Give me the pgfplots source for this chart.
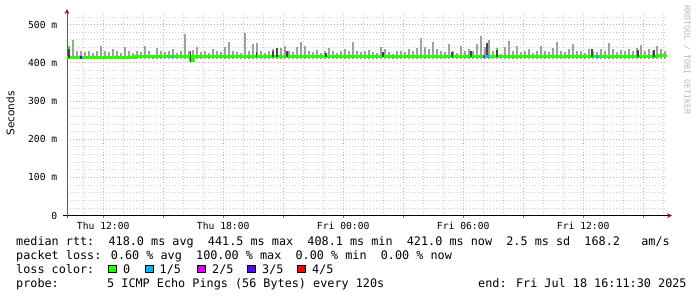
\documentclass[border=0pt]{standalone}
\usepackage{fontspec}
\setmainfont{DejaVu Sans}
\newfontfamily\monofont{DejaVu Sans Mono}
\usepackage{pgfplots}
\usepackage{pgfplotstable}
\pgfplotsset{compat=1.18}
\usetikzlibrary{arrows.meta}
\definecolor{mgrid}{RGB}{232,160,160}
\definecolor{mingrid}{RGB}{205,205,205}
\definecolor{smoke}{RGB}{160,160,160}
\definecolor{dsmoke}{RGB}{70,70,70}
\definecolor{axgray}{RGB}{90,90,90}
\definecolor{arrowred}{RGB}{140,30,30}
\definecolor{lc0}{RGB}{38,255,0}
\definecolor{lc1}{RGB}{0,184,255}
\definecolor{lc2}{RGB}{221,0,255}
\definecolor{lc3}{RGB}{92,0,255}
\definecolor{lc4}{RGB}{255,0,0}
\definecolor{wm}{RGB}{185,185,185}

\pgfplotstableread{
h t
10.3 445
10.5 460
10.7 432
10.9 430
11.1 428
11.3 430
11.5 425
11.7 432
11.9 445
12.1 432
12.3 428
12.5 436
12.7 430
12.9 425
13.1 440
13.3 430
13.5 425
13.7 432
13.9 428
14.1 445
14.3 430
14.5 420
14.7 438
14.9 432
15.1 428
15.3 430
15.5 436
15.7 425
15.9 432
16.1 475
16.3 430
16.5 434
16.7 440
16.9 428
17.1 432
17.3 426
17.5 436
17.7 430
17.9 428
18.1 440
18.3 455
18.5 432
18.7 428
18.9 425
19.1 478
19.3 430
19.5 448
19.7 452
19.9 430
20.1 426
20.3 432
20.5 436
20.7 430
20.9 438
21.1 445
21.3 432
21.5 428
21.7 440
21.9 455
22.1 445
22.3 430
22.5 428
22.7 434
22.9 426
23.1 430
23.3 438
23.5 430
23.7 425
23.9 432
24.1 436
24.3 430
24.5 455
24.7 432
24.9 428
25.1 430
25.3 434
25.5 428
25.7 426
25.9 440
26.1 436
26.3 428
26.5 424
26.7 430
26.9 432
27.1 428
27.3 436
27.5 430
27.7 438
27.9 465
28.1 440
28.3 436
28.5 455
28.7 436
28.9 430
29.1 428
29.3 448
29.5 432
29.7 426
29.9 445
30.1 432
30.3 436
30.5 430
30.7 450
30.9 470
31.1 440
31.3 460
31.5 432
31.7 426
31.9 424
32.1 440
32.3 458
32.5 432
32.7 445
32.9 428
33.1 430
33.3 436
33.5 426
33.7 430
33.9 445
34.1 432
34.3 428
34.5 438
34.7 455
34.9 432
35.1 428
35.3 436
35.5 450
35.7 430
35.9 432
36.1 426
36.3 436
36.5 432
36.7 428
36.9 436
37.1 432
37.3 453
37.5 436
37.7 428
37.9 434
38.1 430
38.3 436
38.5 432
38.7 438
38.9 447
39.1 432
39.3 436
39.5 430
39.7 445
39.9 436
40.1 432
}\smoketab

\pgfplotstableread{
h b t
10.29 412 441
16.37 403 430
19.67 416 428
20.49 416 432
20.69 416 439
21.19 416 431
23.14 416 425
25.99 416 428
29.44 416 427
30.39 416 432
31.19 416 451
31.69 416 436
36.44 416 436
38.74 416 434
39.54 416 433
}\darktab

\begin{document}
\begin{tikzpicture}
\useasboundingbox (0pt,0pt) rectangle (697pt,-297pt);
\fill[white] (0pt,0pt) rectangle (697pt,-297pt);
\begin{axis}[
  at={(67pt,-215.6pt)}, anchor=south west,
  scale only axis, width=600pt, height=202.5pt,
  xmin=10.19, xmax=40.19, ymin=0, ymax=530,
  axis x line*=bottom, axis y line*=left,
  x axis line style={color=black, line width=0.8pt, shorten <=-4pt, shorten >=-5pt, -{Stealth[length=5pt,width=5pt,color=arrowred]}},
  y axis line style={color=axgray, line width=0.8pt, shorten <=-2pt, shorten >=-4pt, -{Stealth[length=5pt,width=5pt,color=arrowred]}},
  xtick={12,15,...,39},
  xticklabels={Thu 12:00,,Thu 18:00,,Fri 00:00,,Fri 06:00,,Fri 12:00,},
  minor xtick={11,...,40},
  ytick={0,100,...,500},
  yticklabels={0,100 m,200 m,300 m,400 m,500 m},
  minor ytick={20,40,...,520},
  grid=both,
  major grid style={color=mgrid, dash pattern=on 1pt off 2pt, line width=0.8pt},
  minor grid style={color=mingrid, dash pattern=on 1pt off 2pt, line width=0.8pt},
  tick align=outside, major tick length=2pt, minor tick length=0pt,
  tick style={color=mgrid!70!black, line width=0.6pt},
  ytick style={draw=none},
  ticklabel style={font=\monofont\fontsize{9.7}{11}\selectfont, inner sep=0pt},
  xticklabel style={anchor=north, yshift=-4.5pt},
  yticklabel style={anchor=east, xshift=-7.5pt},
  clip=true,
]
\addplot[only marks, mark options={draw opacity=0, fill opacity=0}, forget plot,
  error bars/.cd, y dir=plus, y explicit, error mark=none,
  error bar style={line width=2.4pt, color=smoke, draw opacity=1}]
  table[x=h, y expr=410, y error expr=\thisrow{t}-410] {\smoketab};
\addplot[color=lc0, line width=3pt, mark=none] coordinates {
  (10.19,412.5) (13.59,412.5) (13.59,415.5) (16.34,415.5) (16.34,406) (16.49,406)
  (16.49,416) (39.69,416) (39.69,418) (40.19,418)};
\addplot[only marks, mark options={draw opacity=0, fill opacity=0}, forget plot,
  error bars/.cd, y dir=plus, y explicit, error mark=none,
  error bar style={line width=1.5pt, color=dsmoke, draw opacity=1}]
  table[x=h, y=b, y error expr=\thisrow{t}-\thisrow{b}] {\darktab};
\addplot[color=lc0, line width=2.5pt, mark=none] coordinates {(10.26,440) (10.33,440)};
\addplot[color=lc0, line width=2.5pt, mark=none] coordinates {(31.65,436) (31.72,436)};
\addplot[color=lc3, line width=3pt, mark=none] coordinates {(10.84,412.5) (10.94,412.5)};
\addplot[color=lc1, line width=3pt, mark=none] coordinates {(15.39,415.5) (15.49,415.5)};
\addplot[color=lc2, line width=3pt, mark=none] coordinates {(30.99,416) (31.09,416)};
\addplot[color=lc1, line width=3pt, mark=none] coordinates {(31.14,416) (31.29,416)};
\addplot[color=lc1, line width=3pt, mark=none] coordinates {(36.64,416) (36.79,416)};
\end{axis}

\node[rotate=90, font=\fontsize{10.5}{12}\selectfont, inner sep=0pt] at (10.5pt,-113.5pt) {Seconds};
\node[rotate=-90, font=\monofont\fontsize{8.3}{10}\selectfont, text=wm, inner sep=0pt] at (687pt,-60pt) {RRDTOOL / TOBI OETIKER};

\begin{scope}[every node/.style={font=\monofont\fontsize{11.8}{14}\selectfont, inner sep=0pt, anchor=base west}]
\node at (16pt,-245pt) {median rtt:~~418.0 ms avg~~441.5 ms max~~408.1 ms min~~421.0 ms now~~2.5 ms sd~~168.2~~~am/s};
\node at (16pt,-259.3pt) {packet loss: 0.60 \% avg~~100.00 \% max~~0.00 \% min~~0.00 \% now};
\node at (16pt,-273.7pt) {loss color:};
\node at (123pt,-273.7pt) {0};
\node at (159.5pt,-273.7pt) {1/5};
\node at (212pt,-273.7pt) {2/5};
\node at (262pt,-273.7pt) {3/5};
\node at (312pt,-273.7pt) {4/5};
\node at (16pt,-287.7pt) {probe:};
\node at (107pt,-287.7pt) {5 ICMP Echo Pings (56 Bytes) every 120s};
\node at (478pt,-287.7pt) {end: Fri Jul 18 16:11:30 2025};
\end{scope}
\foreach \bx/\c in {108.5/lc0,145.5/lc1,197.5/lc2,247.5/lc3,297.5/lc4}{
  \filldraw[fill=\c, draw=black, line width=0.8pt] (\bx pt,-265pt) rectangle ++(7.5pt,-7.5pt);
}
\end{tikzpicture}
\end{document}
